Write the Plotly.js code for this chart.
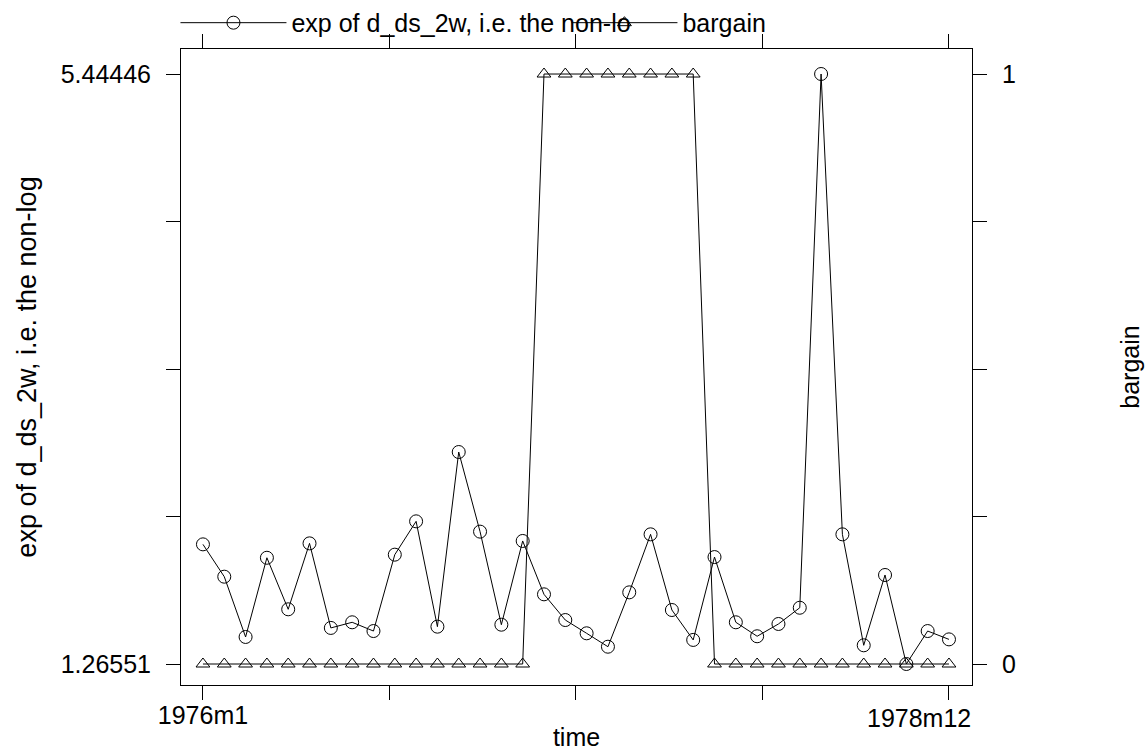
<!DOCTYPE html>
<html><head><meta charset="utf-8">
<script src="https://cdn.plot.ly/plotly-3.0.1.min.js"></script>
<style>html,body{margin:0;padding:0;background:#fff}</style>
</head><body><div id="chart" style="width:1146px;height:754px"></div>
<script>
const timeLabels = ["1976m1","1976m2","1976m3","1976m4","1976m5","1976m6","1976m7","1976m8","1976m9","1976m10","1976m11","1976m12",
  "1977m1","1977m2","1977m3","1977m4","1977m5","1977m6","1977m7","1977m8","1977m9","1977m10","1977m11","1977m12",
  "1978m1","1978m2","1978m3","1978m4","1978m5","1978m6","1978m7","1978m8","1978m9","1978m10","1978m11","1978m12"];
const expDs2w = [2.113,1.884,1.457,2.018,1.653,2.120,1.521,1.561,1.499,2.040,2.276,1.530,
  2.767,2.203,1.544,2.137,1.759,1.577,1.483,1.388,1.773,2.184,1.648,1.436,
  2.023,1.561,1.462,1.549,1.664,5.44446,2.184,1.398,1.896,1.26551,1.499,1.440];
const bargain = [0,0,0,0,0,0,0,0,0,0,0,0,
  0,0,0,0,1,1,1,1,1,1,1,1,
  0,0,0,0,0,0,0,0,0,0,0,0];
const xTickVals = [0, 8.75, 17.5, 26.25, 35];
const xTickText = ["1976m1","","","",""];
const xEndLabel = "1978m12";
const yTickVals = [1.26551, 2.3102875, 3.354985, 4.3996825, 5.44446];
const yTickText = ["1.26551","","","","5.44446"];
const y2TickVals = [0, 0.25, 0.5, 0.75, 1];
const y2TickText = ["0","","","","1"];
const seriesNames = ["exp of d_ds_2w, i.e. the non-lo", "bargain"];

const xIdx = timeLabels.map((_, i) => i);
const FONT = "Liberation Sans, Arial, sans-serif";

const traces = [
  {x: xIdx, y: expDs2w, type: "scatter", mode: "lines+markers", name: seriesNames[0],
   text: timeLabels, hovertemplate: "%{text}: %{y}<extra></extra>",
   line: {color: "#000", width: 1},
   marker: {symbol: "circle-open", size: 13, color: "#000", line: {width: 1, color: "#000"}},
   yaxis: "y"},
  {x: xIdx, y: bargain, type: "scatter", mode: "lines+markers", name: seriesNames[1],
   text: timeLabels, hovertemplate: "%{text}: %{y}<extra></extra>",
   line: {color: "#000", width: 1},
   marker: {symbol: "triangle-up-open", size: 12, color: "#000", line: {width: 1, color: "#000"}},
   yaxis: "y2"}
];

const layout = {
  width: 1146, height: 754,
  margin: {l: 181, r: 174, t: 49, b: 69, autoexpand: false},
  paper_bgcolor: "#fff", plot_bgcolor: "#fff",
  font: {family: FONT, size: 25, color: "#000"},
  showlegend: true,
  legend: {orientation: "h", x: -0.007, xanchor: "left", y: 1.041, yanchor: "middle",
    itemwidth: 106, entrywidth: 270, entrywidthmode: "pixels",
    font: {family: FONT, size: 25, color: "#000"}, bgcolor: "rgba(0,0,0,0)", borderwidth: 0},
  xaxis: {range: [-1.03, 36.08], showgrid: false, zeroline: false,
    showline: true, linecolor: "#000", linewidth: 1, mirror: "allticks",
    ticks: "outside", ticklen: 14, tickcolor: "#000", tickwidth: 1,
    tickmode: "array", tickvals: xTickVals, ticktext: xTickText, ticklabelstandoff: -6,
    tickfont: {family: FONT, size: 25, color: "#000"},
    title: {text: "time", font: {family: FONT, size: 25, color: "#000"}, standoff: 0}},
  yaxis: {range: [1.1168, 5.6215], showgrid: false, zeroline: false,
    showline: true, linecolor: "#000", linewidth: 1,
    ticks: "outside", ticklen: 14, tickcolor: "#000", tickwidth: 1,
    tickmode: "array", tickvals: yTickVals, ticktext: yTickText, ticklabelstandoff: 10,
    tickfont: {family: FONT, size: 25, color: "#000"},
    title: {text: "exp of d_ds_2w, i.e. the non-log", font: {family: FONT, size: 27, color: "#000"}, standoff: 16}},
  yaxis2: {range: [-0.0356, 1.0424], overlaying: "y", side: "right", showgrid: false, zeroline: false,
    showline: true, linecolor: "#000", linewidth: 1,
    ticks: "outside", ticklen: 14, tickcolor: "#000", tickwidth: 1,
    tickmode: "array", tickvals: y2TickVals, ticktext: y2TickText, ticklabelstandoff: 10,
    tickfont: {family: FONT, size: 25, color: "#000"},
    title: {text: "bargain", font: {family: FONT, size: 25, color: "#000"}, standoff: 106}},
  annotations: [
    {text: xEndLabel, xref: "paper", yref: "paper", x: 1, y: -0.0519, xanchor: "right", yanchor: "middle",
     showarrow: false, font: {family: FONT, size: 25, color: "#000"}, borderpad: 0}
  ]
};

Plotly.newPlot("chart", traces, layout, {displayModeBar: false, responsive: false});
</script></body></html>
